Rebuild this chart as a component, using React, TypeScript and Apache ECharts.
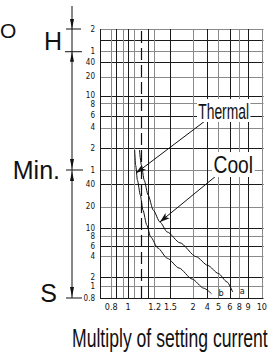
import React, { useEffect, useRef } from 'react';
import * as echarts from 'echarts';

// ---- tick values and labels (multiple of setting current) ----
const X_TICK_VALUES = [0.7, 0.8, 0.85, 0.9, 1, 1.05, 1.15, 1.2, 1.5, 2, 4, 5, 6, 8, 9, 10];
const X_TICK_LABELS = ['', '0.8', '', '', '1', '', '', '1.2', '1.5', '2', '4', '5', '6', '8', '9', '10'];
const X_DASHED_VALUE = 1.1;

// ---- time ticks, in seconds (S / Min. / H sections) ----
const Y_TICK_SECONDS = [0.8, 1, 2, 4, 6, 8, 10, 20, 40, 60, 120, 240, 360, 480, 600, 1200, 2400, 3600, 5400, 7200];
const Y_TICK_LABELS = ['0.8', '1', '2', '4', '6', '8', '10', '20', '40', '1', '2', '4', '6', '{d|8}', '{u|10}', '20', '40', '1', '', '2'];

// ---- characteristic curves: [multiple, seconds] ----
const THERMAL_CURVE: number[][] = [
  [1.05, 114], [1.057, 70], [1.07, 45], [1.09, 29], [1.11, 18], [1.14, 11],
  [1.17, 7.9], [1.26, 5.7], [1.44, 3.8], [1.69, 2.75], [1.98, 1.8], [3.5, 0.97], [4.37, 0.87],
];
const COOL_CURVE: number[][] = [
  [1.084, 114], [1.098, 70], [1.12, 45], [1.15, 29], [1.19, 18], [1.3, 12.2],
  [1.44, 9], [1.71, 6.7], [2.44, 4], [4.03, 3.0], [4.98, 2.3], [5.75, 1.45], [6.6, 0.9],
];
const THERMAL_POINTER = [1.06, 55];
const COOL_POINTER = [1.3, 12.2];

// ---- hand-drawn nomogram scale definition (relative axis position of each knot) ----
const X_SCALE_KNOTS = [0.7, 0.8, 0.85, 0.9, 1, 1.05, 1.1, 1.15, 1.2, 1.5, 2, 4, 5, 6, 8, 9, 10, 10.1];
const X_SCALE_POS = [0, 0.069, 0.102, 0.141, 0.172, 0.212, 0.255, 0.294, 0.334, 0.431, 0.569, 0.657, 0.725, 0.794, 0.853, 0.906, 0.99, 1];
const Y_SCALE_POS = [0, 0.042, 0.0755, 0.1535, 0.1907, 0.2286, 0.2602, 0.3383, 0.4219, 0.4758, 0.5565, 0.632, 0.6766, 0.7238, 0.749, 0.8216, 0.8747, 0.9156, 0.9565, 1];

function interp(v: number, knots: number[], pos: number[], log: boolean): number {
  const f = log ? Math.log10 : (a: number) => a;
  const t = f(v);
  for (let i = 0; i < knots.length - 1; i++) {
    const a = f(knots[i]);
    const b = f(knots[i + 1]);
    if (t <= b || i === knots.length - 2) {
      return pos[i] + ((pos[i + 1] - pos[i]) * (t - a)) / (b - a);
    }
  }
  return 0;
}
const xs = (m: number) => interp(m, X_SCALE_KNOTS, X_SCALE_POS, false);
const ys = (s: number) => interp(s, Y_TICK_SECONDS, Y_SCALE_POS, true);

const GRID = { left: 100, top: 29, width: 170, height: 269 };
const yPx = (s: number) => GRID.top + (1 - ys(s)) * GRID.height;

const NARROW = "'Liberation Sans Narrow', 'DejaVu Sans Condensed', 'Liberation Sans', sans-serif";
const SANS = "'Liberation Sans', Arial, sans-serif";
const INK = '#111';

function labelFor(val: number, positions: number[], labels: string[]) {
  for (let i = 0; i < positions.length; i++) {
    if (Math.abs(positions[i] - val) < 1e-6) return labels[i];
  }
  return '';
}

export default function App() {
  const ref = useRef<HTMLDivElement>(null);
  useEffect(() => {
    document.body.style.margin = '0';
    if (!ref.current) return;
    const chart = echarts.init(ref.current, null, { renderer: 'svg' });

    const xPos = X_TICK_VALUES.map(xs);
    const xLabelPos = X_TICK_VALUES.filter((_, i) => X_TICK_LABELS[i] !== '').map(xs);
    const yPos = Y_TICK_SECONDS.map(ys);
    const yLabelPos = Y_TICK_SECONDS.filter((_, i) => Y_TICK_LABELS[i] !== '').map(ys);

    const yH2 = yPx(7200);
    const yH1 = yPx(3600);
    const yMin = yPx(60);
    const yS = yPx(0.8);
    const ax = 72;

    const tri = (tipY: number, dir: number) => ({
      type: 'polygon',
      shape: { points: [[ax - 2, tipY - dir * 10], [ax + 2, tipY - dir * 10], [ax, tipY]] },
      style: { fill: INK },
    });
    const hline = (y: number, x1: number, x2: number) => ({
      type: 'line',
      shape: { x1, y1: y, x2, y2: y },
      style: { stroke: INK, lineWidth: 1 },
    });

    const curveSeries = (name: string, data: number[][], tag: string, pointer: number[], from: number[], extra: any[]) => ({
      type: 'line',
      name,
      data: data.map(([m, s]) => [xs(m), ys(s)]),
      smooth: 0.25,
      smoothMonotone: 'x',
      symbol: 'none',
      lineStyle: { color: INK, width: 1 },
      z: 5,
      endLabel: { show: true, formatter: tag, fontFamily: NARROW, fontSize: 9, color: INK, offset: [-1, -1] },
      markLine: {
        silent: true,
        animation: false,
        label: { show: false },
        symbol: ['none', 'arrow'],
        symbolSize: [5, 10],
        lineStyle: { color: INK, width: 1, type: 'solid' },
        data: [
          ...extra,
          [
            { x: from[0], y: from[1] },
            { coord: [xs(pointer[0]), ys(pointer[1])] },
          ],
        ],
      },
    });

    const dashed = [
      [
        { xAxis: xs(X_DASHED_VALUE), yAxis: 0, symbol: 'none', lineStyle: { color: INK, width: 1.2, type: [12, 5] } },
        { xAxis: xs(X_DASHED_VALUE), yAxis: 1, symbol: 'none' },
      ],
    ];

    chart.setOption({
      animation: false,
      grid: { ...GRID },
      xAxis: {
        type: 'value',
        min: 0,
        max: 1,
        axisLine: { show: false },
        axisTick: { show: false, customValues: xPos },
        splitLine: { show: true, lineStyle: { color: ['#1a1a1a', '#8a8a8a'], width: 1 } },
        axisLabel: {
          customValues: xLabelPos,
          formatter: (v: number) => labelFor(v, xPos, X_TICK_LABELS),
          fontFamily: NARROW,
          fontSize: 9,
          color: INK,
          margin: 4,
        },
      },
      yAxis: {
        type: 'value',
        min: 0,
        max: 1,
        axisLine: { show: false },
        axisTick: { show: false, customValues: yPos },
        splitLine: { show: true, lineStyle: { color: ['#1a1a1a', '#8a8a8a'], width: 1 } },
        axisLabel: {
          customValues: yLabelPos,
          formatter: (v: number) => labelFor(v, yPos, Y_TICK_LABELS),
          fontFamily: NARROW,
          fontSize: 8,
          color: INK,
          margin: 5,
          rich: {
            u: { fontFamily: NARROW, fontSize: 8, color: INK, padding: [0, 0, 3, 0] },
            d: { fontFamily: NARROW, fontSize: 8, color: INK, padding: [3, 0, 0, 0] },
          },
        },
      },
      series: [
        curveSeries('Thermal', THERMAL_CURVE, 'b', THERMAL_POINTER, [205, 121], dashed),
        curveSeries('Cool', COOL_CURVE, 'a', COOL_POINTER, [216, 176], []),
      ],
      graphic: [
        { type: 'line', shape: { x1: ax, y1: 6, x2: ax, y2: yS }, style: { stroke: INK, lineWidth: 1 } },
        hline(yH2, 66, 81),
        hline(yH1, 65, 82),
        hline(yMin, 66, 83),
        hline(yS, 66, 82),
        tri(yH2, 1),
        tri(yH1, -1),
        tri(yMin - 1, 1),
        tri(yMin + 1, -1),
        tri(yS - 1, 1),
        { type: 'text', x: 0, y: 30, style: { text: 'O', fontFamily: SANS, fontSize: 21, fill: INK, textAlign: 'left', textVerticalAlign: 'middle' } },
        { type: 'text', x: 62, y: (yH2 + yH1) / 2 + 1, style: { text: 'H', fontFamily: SANS, fontSize: 25, fill: INK, textAlign: 'right', textVerticalAlign: 'middle' } },
        { type: 'text', x: 60, y: yMin, style: { text: 'Min.', fontFamily: SANS, fontSize: 25, fill: INK, textAlign: 'right', textVerticalAlign: 'middle' } },
        { type: 'text', x: 57, y: yS - 5, style: { text: 'S', fontFamily: SANS, fontSize: 25, fill: INK, textAlign: 'right', textVerticalAlign: 'middle' } },
        {
          type: 'text', x: 197, y: 99, scaleX: 0.63, z: 20,
          style: { text: 'Thermal', fontFamily: SANS, fontSize: 22, fill: INK, textAlign: 'left', textVerticalAlign: 'top', backgroundColor: '#fff', padding: [1, 2, 0, 2] },
        },
        {
          type: 'text', x: 212, y: 152, scaleX: 0.8, z: 20,
          style: { text: 'Cool', fontFamily: SANS, fontSize: 24, fill: INK, textAlign: 'left', textVerticalAlign: 'top', backgroundColor: '#fff', padding: [1, 2, 0, 2] },
        },
        {
          type: 'text', x: 72, y: 338, scaleX: 0.705,
          style: { text: 'Multiply of setting current', fontFamily: SANS, fontSize: 25, fill: INK, textAlign: 'left', textVerticalAlign: 'middle' },
        },
      ],
    });
    return () => chart.dispose();
  }, []);
  return <div ref={ref} style={{ width: 270, height: 356 }} />;
}
